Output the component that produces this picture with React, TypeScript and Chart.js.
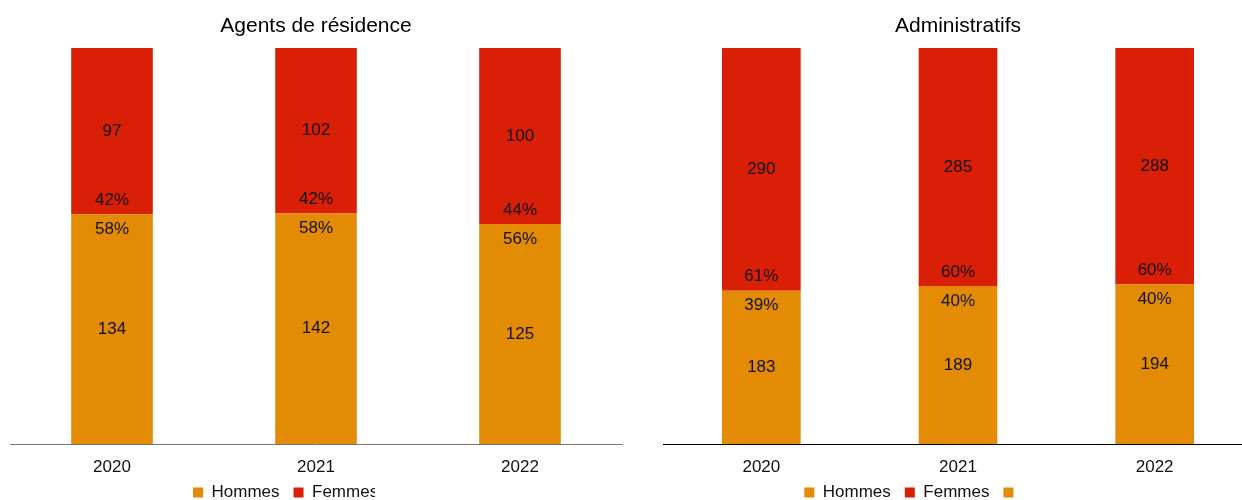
import React, { useEffect, useRef } from 'react';
import { Chart, registerables } from 'chart.js';

Chart.register(...registerables);

const years = ['2020', '2021', '2022'];
const agentsHommes = [134, 142, 125];
const agentsFemmes = [97, 102, 100];
const adminHommes = [183, 189, 194];
const adminFemmes = [290, 285, 288];
const seriesNames = ['Hommes', 'Femmes'];
const titles = ['Agents de résidence', 'Administratifs'];

const ORANGE = '#E38B05';
const RED = '#D91F05';
const FONT = '"Liberation Sans", Arial, Helvetica, sans-serif';

const share = (a: number[], b: number[]) => a.map((v, i) => (v / (v + b[i])) * 100);

const segLabels = {
  id: 'segLabels',
  afterDatasetsDraw(chart: any) {
    const ctx = chart.ctx;
    ctx.save();
    ctx.font = `17px ${FONT}`;
    ctx.fillStyle = '#111';
    ctx.textAlign = 'center';
    ctx.textBaseline = 'middle';
    chart.data.datasets.forEach((ds: any, di: number) => {
      if (!ds.counts) return;
      const meta = chart.getDatasetMeta(di);
      meta.data.forEach((el: any, i: number) => {
        const { x, y, base } = el.getProps(['x', 'y', 'base'], true);
        const top = Math.min(y, base);
        const bottom = Math.max(y, base);
        ctx.fillText(String(ds.counts[i]), x, (top + bottom) / 2);
        const pct = Math.round(ds.data[i]) + '%';
        if (ds.pctPos === 'top') ctx.fillText(pct, x, top + 15);
        else ctx.fillText(pct, x, bottom - 14);
      });
    });
    ctx.restore();
  },
};

// moves the legend row up a little after layout, and optionally hides what lies past a clip x
const legendTweak = {
  id: 'legendTweak',
  afterLayout(chart: any, _args: any, opts: any) {
    const lg = chart.legend;
    if (lg && opts && opts.shift) {
      lg.top += opts.shift;
      lg.bottom += opts.shift;
    }
  },
  afterDraw(chart: any, _args: any, opts: any) {
    if (!opts || opts.clipX == null) return;
    const lg = chart.legend;
    const ctx = chart.ctx;
    const y0 = lg.top + 10;
    ctx.save();
    ctx.fillStyle = '#fff';
    ctx.fillRect(opts.clipX, y0, chart.width - opts.clipX, chart.height - y0);
    ctx.restore();
  },
};

function makeConfig(
  title: string,
  hommes: number[],
  femmes: number[],
  pad: { left: number; right: number },
  axisColor: string,
  extraLabel: string,
  clipX: number | null
): any {
  const hs = share(hommes, femmes);
  const fs = share(femmes, hommes);
  return {
    type: 'bar',
    data: {
      labels: years,
      datasets: [
        { label: seriesNames[0], data: hs, counts: hommes, pctPos: 'top', backgroundColor: ORANGE, stack: 's' },
        { label: seriesNames[1], data: fs, counts: femmes, pctPos: 'bottom', backgroundColor: RED, stack: 's' },
        { label: extraLabel, data: [], backgroundColor: ORANGE, stack: 's' },
      ],
    },
    options: {
      responsive: false,
      animation: false,
      events: [],
      categoryPercentage: 1,
      barPercentage: 0.4,
      layout: { padding: { left: pad.left, right: pad.right, top: 0, bottom: -21 } },
      scales: {
        x: {
          stacked: true,
          grid: { display: false, drawTicks: false },
          border: { display: true, color: axisColor, width: 1 },
          ticks: { color: '#111', font: { family: FONT, size: 17 }, padding: 13 },
          afterFit(scale: any) {
            scale.height = 36;
          },
        },
        y: { stacked: true, display: false, min: 0, max: 100 },
      },
      plugins: {
        title: {
          display: true,
          text: title,
          color: '#000',
          font: { family: FONT, size: 21, weight: 'normal' },
          padding: { top: 13.4, bottom: 9.4 },
        },
        legend: {
          position: 'bottom',
          labels: {
            boxWidth: 10,
            boxHeight: 10,
            padding: 14,
            color: '#111',
            font: { family: FONT, size: 17 },
          },
        },
        tooltip: { enabled: false },
        legendTweak: { clipX, shift: -10 },
      },
    },
    plugins: [segLabels, legendTweak],
  };
}

function ChartCanvas({ config, left }: { config: any; left: number }) {
  const ref = useRef<HTMLCanvasElement | null>(null);
  useEffect(() => {
    if (!ref.current) return;
    const c = new Chart(ref.current, config);
    return () => c.destroy();
  }, [config]);
  return (
    <canvas
      ref={ref}
      width={640}
      height={500}
      style={{ position: 'absolute', left, top: 0, width: 640, height: 500 }}
    />
  );
}

const leftConfig = makeConfig(titles[0], agentsHommes, agentsFemmes, { left: 10, right: 18 }, '#777', ' '.repeat(6), 375);
const rightConfig = makeConfig(titles[1], adminHommes, adminFemmes, { left: 23, right: 27 }, '#000', ' '.repeat(19), null);

export default function App() {
  return (
    <div
      style={{
        position: 'fixed',
        left: 0,
        top: 0,
        width: 1242,
        height: 500,
        overflow: 'hidden',
        background: '#fff',
      }}
    >
      <ChartCanvas config={leftConfig} left={0} />
      <ChartCanvas config={rightConfig} left={640} />
    </div>
  );
}
